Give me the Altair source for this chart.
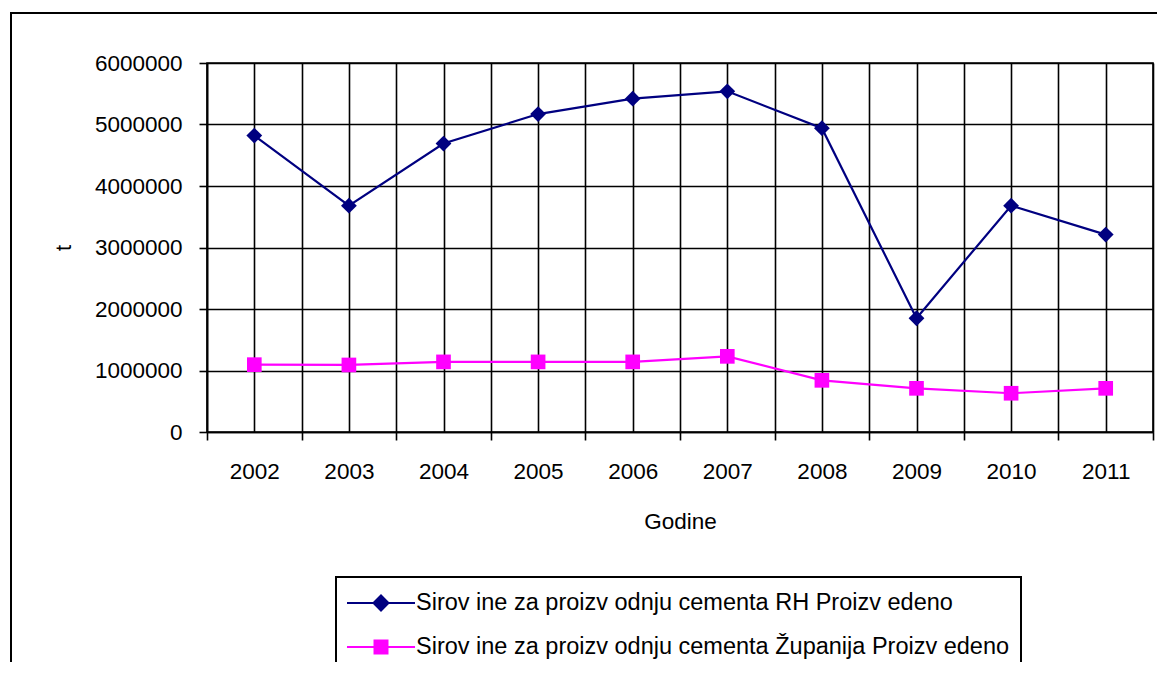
import json
import altair as alt
import pandas as pd

# ---- data ----
years = ["2002", "2003", "2004", "2005", "2006", "2007", "2008", "2009", "2010", "2011"]
rh_values = [4820000, 3680000, 4690000, 5170000, 5420000, 5540000, 4940000, 1850000, 3680000, 3210000]
zup_values = [1095000, 1090000, 1140000, 1140000, 1140000, 1230000, 840000, 710000, 630000, 710000]
series_names = [
    "Sirov ine za proizv odnju cementa RH Proizv edeno",
    "Sirov ine za proizv odnju cementa Županija Proizv edeno",
]
series_colors = ["#000080", "#FF00FF"]
y_tick_values = [0, 1000000, 2000000, 3000000, 4000000, 5000000, 6000000]
x_grid_values = [0, 0.5, 1, 1.5, 2, 2.5, 3, 3.5, 4, 4.5, 5, 5.5, 6, 6.5, 7, 7.5, 8, 8.5, 9, 9.5, 10]
y_title = "t"
x_title = "Godine"

FONT = "Liberation Sans"
GRID_W = 1.6

rows = []
for i, yr in enumerate(years):
    rows.append({"pos": i + 0.5, "year": yr, "series": series_names[0], "value": rh_values[i]})
    rows.append({"pos": i + 0.5, "year": yr, "series": series_names[1], "value": zup_values[i]})
df = pd.DataFrame(rows)

x_scale = alt.Scale(domain=[0, 10], nice=False, zero=False)
y_scale = alt.Scale(domain=[0, 6000000], nice=False)

label_expr = f"datum.value % 1 == 0.5 ? {json.dumps(years)}[floor(datum.value)] : ''"

x_axis = alt.Axis(
    values=x_grid_values,
    grid=True, gridColor="black", gridWidth=GRID_W, gridOpacity=1,
    domainColor="black", domainWidth=GRID_W,
    tickColor="black", tickWidth=GRID_W, tickSize=8,
    tickOpacity={"condition": {"test": "datum.value % 1 != 0", "value": 0}, "value": 1},
    labelExpr=label_expr, labelFont=FONT, labelFontSize=22.5, labelColor="black",
    labelPadding=20, labelOverlap=False, labelFlush=False,
    title=x_title, titleFont=FONT, titleFontSize=22.5, titleFontWeight="normal",
    titleColor="black", titleY=78,
)
y_axis = alt.Axis(
    values=y_tick_values, format="d",
    grid=True, gridColor="black", gridWidth=GRID_W, gridOpacity=1,
    domainColor="black", domainWidth=GRID_W,
    tickColor="black", tickWidth=GRID_W, tickSize=8,
    labelFont=FONT, labelFontSize=22.5, labelColor="black", labelPadding=17,
    title=y_title, titleFont=FONT, titleFontSize=22, titleFontWeight="normal",
    titleColor="black", titleX=-132, titleY=184.5,
)

X = alt.X("pos:Q", scale=x_scale, axis=x_axis)
Y = alt.Y("value:Q", scale=y_scale, axis=y_axis)

base = alt.Chart(df)
rh = base.transform_filter(alt.datum.series == series_names[0])
zup = base.transform_filter(alt.datum.series == series_names[1])

line_rh = rh.mark_line(strokeWidth=2.2, color=series_colors[0]).encode(x=X, y=Y)
line_zup = zup.mark_line(strokeWidth=2.2, color=series_colors[1]).encode(x=X, y=Y)
pts_rh = rh.mark_point(filled=True, shape="diamond", size=250, strokeWidth=1,
                       opacity=1, color=series_colors[0]).encode(x=X, y=Y)
pts_zup = zup.mark_point(filled=True, shape="square", size=215, strokeWidth=1,
                         opacity=1, color=series_colors[1]).encode(x=X, y=Y)

# legend symbols: line with marker in the middle (custom paths)
diamond_sym = "M-2.43,0H-0.536M0.536,0H2.43M-0.536,0L0,-0.536L0.536,0L0,0.536Z"
square_sym = "M-2.43,0H-0.464M0.464,0H2.43M-0.464,-0.464H0.464V0.464H-0.464Z"

leg = alt.Legend(
    orient="none", legendX=129, legendY=514, title=None,
    strokeColor="black", padding=11, rowPadding=17,
    symbolSize=784, symbolStrokeWidth=2, symbolOffset=19, symbolOpacity=1,
    labelOffset=20, labelFont=FONT, labelFontSize=23.5, labelColor="black", labelLimit=0,
)

legend_layer = base.mark_point(filled=True, opacity=0).encode(
    x=X, y=Y,
    fill=alt.Fill("series:N", scale=alt.Scale(domain=series_names, range=series_colors), legend=leg),
    stroke=alt.Stroke("series:N", scale=alt.Scale(domain=series_names, range=series_colors), legend=leg),
    shape=alt.Shape("series:N", scale=alt.Scale(domain=series_names, range=[diamond_sym, square_sym]), legend=leg),
)

frame = alt.Chart(pd.DataFrame({"k": [0]})).mark_rect(
    filled=False, stroke="black", strokeWidth=2
).encode(
    x=alt.value(-196), x2=alt.value(990), y=alt.value(-50), y2=alt.value(700)
)

chart = alt.layer(line_rh, line_zup, pts_rh, pts_zup, legend_layer, frame).properties(
    width=946, height=369,
    autosize=alt.AutoSizeParams(type="none"),
    padding={"left": 199, "top": 55, "right": 4, "bottom": 230},
    background="white",
).configure_view(stroke="black", strokeWidth=GRID_W).configure_legend(strokeWidth=2)

chart.save("out.html", embed_options={"renderer": "svg", "actions": False})
